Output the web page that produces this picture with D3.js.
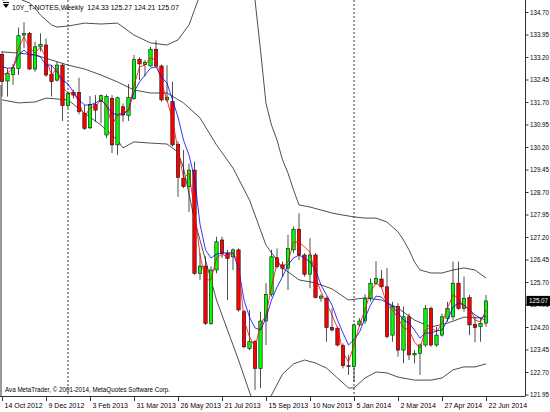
<!DOCTYPE html>
<html><head><meta charset="utf-8">
<script src="https://cdn.jsdelivr.net/npm/d3@7"></script>
<style>html,body{margin:0;padding:0;background:#fff;}svg{display:block;}text{font-family:"Liberation Sans",Arial,sans-serif;}</style>
</head><body><svg id="c" width="550" height="412"></svg>
<script>
// ---- data (weekly bars, 14 Oct 2012 .. 22 Jun 2014) ----
const barOpen  = [133.29,132.40,132.62,132.82,133.93,133.99,132.80,133.54,133.60,132.62,132.43,132.93,131.58,132.02,132.02,131.32,130.84,131.62,131.71,130.60,131.82,130.27,131.54,131.25,131.82,133.12,132.95,132.90,133.46,132.90,131.77,131.71,130.29,129.16,128.88,129.43,125.99,126.23,124.32,126.10,127.10,126.66,126.54,126.77,124.71,123.49,123.71,122.82,124.40,125.29,126.51,126.27,126.16,126.77,127.46,126.60,125.96,126.60,125.16,125.16,124.18,124.16,123.58,122.91,122.88,124.27,124.40,125.16,125.66,125.80,125.54,123.93,124.88,123.43,124.54,123.27,123.32,123.60,124.82,123.60,123.93,124.49,124.54,125.66,124.82,125.18,124.29,124.21,124.33];
const barHigh  = [133.40,132.82,132.96,134.18,134.36,134.04,133.71,133.99,133.82,132.93,133.04,132.99,132.05,132.10,132.51,131.60,131.90,131.93,131.95,131.95,131.93,131.88,131.65,132.30,133.27,133.19,133.10,133.54,133.75,132.95,132.93,132.38,130.38,130.10,129.65,129.71,126.66,126.55,126.22,127.21,127.21,126.77,126.82,126.82,124.77,124.77,123.77,124.71,125.66,126.77,126.82,126.38,127.27,127.55,127.99,126.66,127.16,126.66,125.29,125.21,124.82,124.21,123.65,123.27,124.32,124.49,125.29,125.82,126.40,126.10,126.16,125.04,124.99,124.88,124.65,123.43,123.65,124.93,124.88,124.21,124.65,125.04,126.38,126.38,125.88,125.27,124.54,124.49,125.27];
const barLow   = [131.88,131.88,132.27,132.60,133.49,132.77,132.71,133.38,132.54,131.88,132.38,131.07,131.50,131.82,131.29,130.77,130.80,131.04,130.99,130.49,130.00,129.93,131.04,131.07,131.77,132.43,132.55,132.88,132.85,131.71,131.70,130.22,128.54,128.83,128.04,125.94,125.77,124.27,124.27,125.99,126.50,125.10,126.10,124.71,123.49,123.43,122.10,122.16,123.60,125.21,126.15,125.88,125.43,126.66,126.43,125.88,125.49,125.16,125.04,123.71,124.05,123.55,122.82,122.60,122.38,124.21,124.30,125.05,125.60,125.49,123.82,123.71,123.21,122.99,123.10,122.99,122.60,123.54,123.54,123.54,123.88,124.38,124.43,124.77,124.71,123.93,123.69,123.71,124.21];
const barClose = [132.38,132.66,132.84,133.91,133.99,132.80,133.54,133.62,132.60,132.38,132.93,131.58,131.99,131.93,131.38,130.82,131.62,131.43,131.91,131.88,130.27,131.84,131.27,131.85,133.11,132.97,133.02,133.46,132.90,131.77,131.86,130.27,129.19,128.88,129.43,125.99,126.23,124.32,126.10,127.04,126.66,126.49,126.77,124.77,123.54,123.71,122.82,124.40,125.29,126.54,126.21,126.16,126.82,127.46,126.60,125.96,126.60,125.18,125.23,124.18,124.10,123.60,122.91,122.88,124.27,124.40,125.14,125.66,125.82,125.54,123.88,124.88,123.43,124.54,123.27,123.32,123.60,124.82,123.60,123.93,124.54,124.82,125.66,124.82,125.16,124.27,124.18,124.32,125.07];
const maRed  = [132.60,132.67,132.83,133.50,133.87,133.50,133.33,133.53,133.17,132.60,132.83,132.20,132.00,132.00,131.70,131.20,131.50,131.57,131.77,131.60,130.93,131.27,131.37,131.40,132.25,132.87,132.93,133.17,133.10,132.33,131.77,131.10,130.10,129.17,129.33,128.10,126.60,125.77,125.77,126.50,126.63,126.53,126.70,126.27,124.43,123.87,123.53,124.27,124.60,125.53,126.33,126.20,126.37,127.03,127.03,126.87,126.70,125.87,125.37,125.00,124.60,124.17,123.37,123.03,123.60,124.27,124.77,125.37,125.67,125.53,124.93,124.77,124.50,124.17,124.10,123.70,123.50,124.10,124.20,124.03,124.33,124.83,125.27,125.17,124.83,124.87,124.43,124.37,124.77];
const maBlue = [132.87,132.83,132.83,133.27,133.43,133.27,133.27,133.20,132.93,132.93,132.70,132.43,132.30,132.03,131.77,131.60,131.60,131.67,131.77,131.57,131.33,131.27,131.27,131.45,132.03,132.37,132.60,132.83,132.87,132.53,132.33,131.77,131.20,130.43,129.93,129.17,127.63,126.77,126.50,126.63,126.67,126.67,126.67,126.17,125.10,124.53,124.17,124.10,124.50,125.10,125.53,125.87,126.27,126.50,126.60,126.50,126.37,126.10,125.60,125.27,124.93,124.43,124.00,123.60,123.77,124.03,124.50,124.93,125.23,125.20,125.00,124.87,124.67,124.43,124.33,124.10,123.83,124.00,124.00,124.07,124.10,124.43,124.87,125.00,124.93,124.77,124.60,124.50,124.57];
const bandUpperBar = [0,3,5,6,7,8,9,10,12,15,18,21,24,27,30,32,34,35,36,38,41,44,45,46,47,48,49,50,51,52,53,54,56,58,60,62,64,66,68,70,72,73,74,75,76,78,80,82,84,86,88];
const bandUpper    = [135.10,135.15,135.00,134.83,134.60,134.43,134.27,134.20,134.23,134.33,134.30,134.33,133.93,133.67,133.60,133.77,134.27,134.77,135.27,136.00,136.50,136.30,136.00,135.10,133.43,131.65,130.93,130.43,129.77,129.33,128.77,128.27,128.20,128.10,128.00,127.93,127.87,127.83,127.83,127.70,127.37,127.10,126.77,126.37,126.10,126.00,126.00,126.10,126.17,126.10,125.83];
const bandMidBar = [0,3,6,9,12,15,18,21,24,27,30,33,36,39,42,45,48,51,54,57,60,63,66,69,72,75,78,81,84,87,88];
const bandMid    = [133.37,133.33,133.27,133.10,132.93,132.80,132.60,132.37,132.10,132.00,132.00,131.67,131.17,130.27,129.50,128.43,126.93,126.17,125.77,125.67,125.47,125.10,125.17,125.10,124.83,124.43,124.20,124.33,124.53,124.50,124.43];
const bandLowerBar = [0,3,6,8,12,15,18,21,22,24,27,30,32,33,35,37,39,41,43,45,47,49,51,53,55,57,59,61,63,64,66,68,70,72,75,78,80,82,84,86,88];
const bandLower    = [131.77,131.67,131.70,131.83,131.77,131.33,130.93,130.43,130.17,130.37,130.33,130.30,130.03,129.50,127.77,126.43,125.10,124.10,123.10,122.03,121.10,121.93,122.63,122.97,123.10,123.00,122.83,122.50,122.17,122.17,122.50,122.70,122.67,122.53,122.43,122.43,122.50,122.77,122.87,122.87,122.97];
const separatorBars = [12,64];
const xTickBars   = [0,8,16,24,32,40,48,56,64,72,80,88];
const xTickLabels = ["14 Oct 2012","9 Dec 2012","3 Feb 2013","31 Mar 2013","26 May 2013","21 Jul 2013","15 Sep 2013","10 Nov 2013","5 Jan 2014","2 Mar 2014","27 Apr 2014","22 Jun 2014"];
const yTickValues = [134.70,133.95,133.20,132.45,131.70,130.95,130.20,129.45,128.70,127.95,127.20,126.45,125.70,124.95,124.20,123.45,122.70,121.95];
const lastPrice = 125.07;
const titleText = "10Y_T-NOTES,Weekly  124.33 125.27 124.21 125.07";
const footerText = "Ava MetaTrader, \u00a9 2001-2014, MetaQuotes Software Corp.";

// ---- drawing ----
const svg = d3.select("#c");
const plotR = 525, plotB = 396;
const x = d3.scaleLinear().domain([0, 88]).range([2, 486]);
const y = d3.scaleLinear().domain([121.95, 134.70]).range([394.5, 12]);

svg.append("defs").append("clipPath").attr("id","clip")
  .append("rect").attr("x",0).attr("y",0).attr("width",plotR).attr("height",plotB);
const g = svg.append("g").attr("clip-path","url(#clip)");

// period separators
g.selectAll("line.sep").data(separatorBars).join("line").attr("class","sep")
  .attr("x1",d=>x(d)).attr("x2",d=>x(d)).attr("y1",0).attr("y2",plotB)
  .attr("stroke","#000").attr("stroke-width",0.8).attr("stroke-dasharray","2,2");

// Bollinger bands
const bandLine = d3.line().x(d=>x(d[0])).y(d=>y(d[1]));
[[bandUpperBar,bandUpper],[bandMidBar,bandMid],[bandLowerBar,bandLower]].forEach(([bi,bv])=>{
  g.append("path").datum(bi.map((b,k)=>[b,bv[k]])).attr("d",bandLine)
    .attr("fill","none").attr("stroke","#222").attr("stroke-width",0.8);
});

// candles
const idx = d3.range(barOpen.length);
const bw = 3.4;
g.selectAll("line.wick").data(idx).join("line").attr("class","wick")
  .attr("x1",i=>x(i)).attr("x2",i=>x(i)).attr("y1",i=>y(barHigh[i])).attr("y2",i=>y(barLow[i]))
  .attr("stroke","#222").attr("stroke-width",0.8);
g.selectAll("rect.body").data(idx).join("rect").attr("class","body")
  .attr("x",i=>x(i)-bw/2).attr("width",bw)
  .attr("y",i=>y(Math.max(barOpen[i],barClose[i])))
  .attr("height",i=>Math.max(0.8, Math.abs(y(barOpen[i])-y(barClose[i]))))
  .attr("fill",i=>barClose[i]>=barOpen[i]?"#00ff00":"#ff0000")
  .attr("stroke","#111").attr("stroke-width",0.6);

// moving averages
const maLine = d3.line().x((d,i)=>x(i)).y(d=>y(d));
g.append("path").datum(maBlue).attr("d",maLine).attr("fill","none").attr("stroke","#0000ff").attr("stroke-width",0.8);
g.append("path").datum(maRed).attr("d",maLine).attr("fill","none").attr("stroke","#ff0000").attr("stroke-width",0.8);

// frame
svg.append("line").attr("x1",plotR+0.5).attr("x2",plotR+0.5).attr("y1",0).attr("y2",plotB).attr("stroke","#333").attr("stroke-width",1);
svg.append("line").attr("x1",0).attr("x2",plotR+0.5).attr("y1",plotB+0.5).attr("y2",plotB+0.5).attr("stroke","#333").attr("stroke-width",1);
svg.append("line").attr("x1",1).attr("x2",1).attr("y1",85).attr("y2",plotB).attr("stroke","#333").attr("stroke-width",1);

// right axis
const yAxis = d3.axisRight(y).tickValues(yTickValues).tickFormat(d3.format(".2f")).tickSize(3).tickPadding(1.5);
const ya = svg.append("g").attr("transform",`translate(${plotR+0.5},0)`).call(yAxis);
ya.select(".domain").remove();
ya.selectAll("text").attr("font-size",7).attr("fill","#000").attr("font-family","Liberation Sans, Arial, sans-serif")
  .attr("textLength",19).attr("lengthAdjust","spacingAndGlyphs");
ya.selectAll(".tick line").attr("stroke","#333");

// last price marker
const ly = y(lastPrice);
svg.append("rect").attr("x",plotR+1.5).attr("y",ly-5).attr("width",23.5).attr("height",10).attr("fill","#000");
svg.append("text").attr("x",plotR+4).attr("y",ly+2.5).attr("font-size",7).attr("fill","#fff")
  .attr("textLength",19).attr("lengthAdjust","spacingAndGlyphs").text(d3.format(".2f")(lastPrice));

// bottom axis
const xa = svg.append("g");
xTickBars.forEach((b,k)=>{
  const xp = Math.round(x(b))+0.5;
  xa.append("line").attr("x1",xp).attr("x2",xp).attr("y1",plotB+1).attr("y2",plotB+5).attr("stroke","#333");
  xa.append("text").attr("x",xp+2).attr("y",plotB+12).attr("font-size",7).attr("fill","#000").text(xTickLabels[k]);
});

// title & footer
svg.append("path").attr("d","M3,4 L9,4 L6,8 Z").attr("fill","#000");
svg.append("line").attr("x1",3).attr("x2",9).attr("y1",2.5).attr("y2",2.5).attr("stroke","#000");
svg.append("text").attr("x",12).attr("y",10).attr("font-size",7).attr("fill","#000").text(titleText).style("white-space","pre");
svg.append("text").attr("x",5).attr("y",392).attr("font-size",7).attr("fill","#000")
  .attr("textLength",165).attr("lengthAdjust","spacingAndGlyphs").text(footerText);
</script></body></html>
